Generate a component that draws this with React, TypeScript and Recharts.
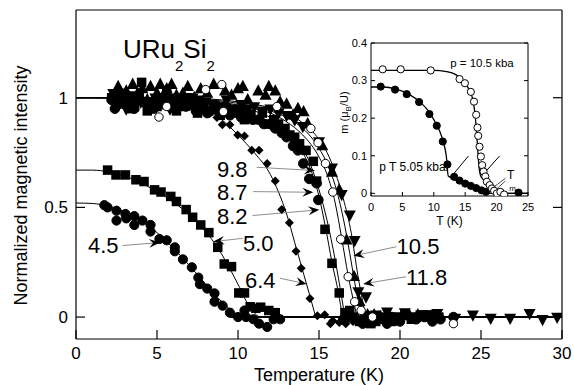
import React from 'react';
import { ComposedChart, Line, Scatter, XAxis, YAxis, ReferenceLine, ReferenceDot } from 'recharts';

const FONT = '"Liberation Sans", Arial, Helvetica, sans-serif';

// ---------- main chart ticks ----------
const xTicks = [0, 5, 10, 15, 20, 25, 30];
const yTicks = [0, 0.5, 1];

// ---------- main chart data (T [K], normalized intensity) ----------
const c45 = [[1.75,0.51],[1.95,0.5],[2.5,0.485],[2.5,0.44],[3.05,0.47],[3.1,0.45],[3.6,0.46],[3.6,0.42],[4.1,0.44],[4.6,0.42],[4.6,0.39],[5.15,0.356],[5.6,0.35],[6.1,0.318],[6.1,0.3],[6.6,0.263],[7.15,0.227],[7.55,0.18],[7.65,0.15],[8.1,0.13],[8.55,0.108],[8.55,0.07],[9.05,0.052],[9.5,0.02],[10.0,0.0],[10.4,0.03],[10.5,0.0],[10.95,-0.01],[11.3,-0.03],[11.8,-0.045],[12.2,-0.01],[12.6,-0.01]];
const sq50 = [[1.95,0.67],[2.47,0.648],[3.05,0.648],[3.7,0.626],[4.2,0.618],[4.85,0.58],[5.25,0.57],[5.85,0.55],[6.2,0.527],[6.8,0.49],[7.2,0.455],[7.7,0.42],[8.2,0.385],[8.75,0.318],[9.15,0.242],[9.6,0.23],[10.05,0.11],[10.4,0.11],[10.75,0.047],[11.1,0.04],[11.4,0.045],[11.9,0.03],[12.3,0.02]];
const d64 = [[2.4,1.0],[2.9,0.97],[3.5,1.0],[4.2,0.98],[4.8,0.99],[5.6,0.97],[6.3,0.98],[7.0,0.96],[7.6,0.97],[8.3,0.93],[8.7,0.91],[9.03,0.877],[9.5,0.877],[9.98,0.83],[10.4,0.825],[10.85,0.76],[11.3,0.76],[11.8,0.7],[12.3,0.62],[12.7,0.49],[13.17,0.43],[13.58,0.3],[13.9,0.222],[14.44,0.085],[14.9,0.006],[15.35,0.01],[15.7,-0.03],[15.85,-0.017],[16.25,-0.025],[16.65,-0.03],[17.1,-0.02],[17.6,-0.01]];
const sq82 = [[2.2,1.0],[2.5,0.97],[2.8,1.02],[3.0,0.99],[3.3,0.95],[3.6,0.96],[3.9,1.0],[4.05,1.07],[4.4,0.94],[4.7,0.97],[5.0,0.96],[5.3,1.0],[5.6,1.03],[5.9,0.98],[6.2,0.94],[6.5,0.96],[6.9,1.0],[7.2,0.97],[7.5,0.93],[7.9,0.95],[8.2,0.94],[8.6,0.96],[8.9,0.92],[9.3,0.95],[9.7,0.93],[10.1,0.94],[10.4,0.9],[10.8,0.92],[11.1,0.9],[11.5,0.93],[11.9,0.88],[12.2,0.9],[12.5,0.88],[12.9,0.86],[13.2,0.83],[13.5,0.82],[13.8,0.79],[14.2,0.76],[14.65,0.71],[14.85,0.62],[15.37,0.4],[15.8,0.245],[16.25,0.11],[16.6,0.02],[16.9,0.03],[17.2,0.0],[17.5,-0.02],[17.9,-0.01],[18.2,-0.03],[18.5,-0.02],[18.8,0.0],[19.1,-0.01],[19.5,-0.02],[19.9,0.0],[20.3,0.01],[20.7,-0.01],[21.0,0.0],[21.4,0.01],[21.8,0.01],[22.4,0.0]];
const c87 = [[2.2,0.99],[2.4,0.95],[2.7,1.0],[3.0,0.97],[3.3,0.98],[3.6,0.95],[3.9,1.0],[4.2,0.98],[4.5,0.97],[4.8,0.95],[5.1,0.99],[5.4,0.97],[5.8,0.97],[6.1,0.95],[6.4,0.99],[6.8,0.96],[7.1,0.97],[7.4,0.94],[7.8,0.96],[8.1,0.93],[8.5,0.95],[8.8,0.94],[9.2,0.96],[9.5,0.92],[9.9,0.94],[10.2,0.91],[10.6,0.93],[10.9,0.9],[11.3,0.9],[11.6,0.88],[12.0,0.88],[12.3,0.86],[12.7,0.84],[13.0,0.82],[13.4,0.78],[13.7,0.76],[14.03,0.7],[14.4,0.63],[14.85,0.61],[14.96,0.534],[16.5,-0.01],[16.8,0.0],[17.3,-0.01],[17.7,-0.03],[18.0,0.005],[18.4,-0.02],[18.7,-0.01],[19.2,-0.03],[19.5,0.0],[20.0,-0.02],[20.4,0.01],[21.0,-0.01],[21.5,0.0],[22.0,-0.02],[22.5,-0.01],[23.3,0.0]];
const oc98 = [[5.12,0.912],[5.6,0.96],[8.0,1.037],[9.0,1.06],[9.1,0.937],[12.4,0.96],[14.5,0.86],[14.94,0.795],[15.4,0.7],[15.85,0.57],[16.34,0.355],[16.8,0.184],[17.2,0.07],[17.6,0.03],[18.3,0.0],[23.3,-0.03]];
const tu105 = [[2.6,1.05],[2.9,1.0],[3.1,1.03],[3.5,1.06],[3.8,1.02],[4.1,1.04],[4.4,0.99],[4.6,1.05],[5.0,1.02],[5.2,1.06],[5.6,1.04],[5.9,1.06],[6.2,1.01],[6.6,1.02],[6.9,1.05],[7.3,1.0],[7.7,1.04],[8.1,1.02],[8.5,1.06],[9.2,1.03],[9.6,1.01],[10.0,1.04],[10.3,1.05],[10.6,0.99],[11.25,1.03],[11.7,1.01],[11.9,1.05],[12.3,1.03],[12.6,0.98],[13.0,0.97],[13.4,0.92],[13.7,0.95],[14.05,0.935],[14.3,0.88],[15.2,0.78],[15.8,0.66],[16.25,0.58],[16.7,0.35],[17.16,0.184],[17.5,0.07],[18.0,0.01],[18.4,0.01],[18.8,0.0],[19.3,0.01],[19.7,-0.01],[20.2,0.01],[20.6,0.005],[21.1,0.01],[21.8,0.0]];
const td118 = [[2.3,1.02],[2.6,0.97],[2.8,1.0],[3.1,0.95],[3.4,1.01],[3.7,0.99],[4.0,0.98],[4.4,0.96],[4.9,1.0],[5.2,0.97],[5.5,0.99],[5.8,0.95],[6.0,1.0],[6.4,0.97],[6.8,0.98],[7.2,1.0],[7.6,0.99],[8.0,0.98],[8.4,0.97],[8.8,0.96],[9.3,0.99],[9.7,0.95],[10.2,0.97],[10.6,0.95],[11.0,0.96],[11.5,0.94],[12.0,0.95],[12.5,0.93],[13.0,0.92],[13.5,0.9],[14.0,0.87],[15.0,0.8],[15.8,0.68],[16.4,0.56],[16.9,0.466],[17.2,0.35],[17.43,0.116],[17.9,0.093],[18.5,0.01],[19.2,0.024],[19.8,0.0],[20.3,0.02],[20.8,0.0],[21.3,0.01],[21.8,0.0],[22.3,0.017],[23.4,-0.005],[24.5,0.01],[25.6,-0.005],[26.8,-0.005],[28.0,0.017],[28.8,-0.01],[29.7,0.0]];

// ---------- fit curves ----------
const line45 = [[0,0.52],[1,0.518],[2,0.505],[3,0.48],[4,0.44],[5,0.385],[6,0.315],[7,0.235],[8,0.15],[9,0.07],[9.6,0.03],[10.2,0.005],[10.6,0]];
const line50 = [[0,0.67],[1,0.67],[2,0.662],[3,0.643],[4,0.612],[5,0.572],[6,0.525],[7,0.465],[8,0.39],[8.8,0.31],[9.5,0.22],[10.1,0.135],[10.6,0.06],[11,0.02],[11.3,0]];
const line64 = [[0,1],[4,1],[6,0.99],[7,0.98],[8,0.95],[9,0.9],[10,0.83],[11,0.75],[12,0.65],[12.5,0.57],[13,0.47],[13.5,0.34],[14,0.21],[14.5,0.08],[14.8,0]];
const line82 = [[0,1],[6,0.99],[9,0.96],[11,0.92],[12,0.89],[13,0.84],[14,0.75],[14.5,0.67],[15,0.55],[15.4,0.41],[15.8,0.25],[16.2,0.11],[16.45,0]];
const line87 = [[0,1],[6,0.995],[9,0.97],[11,0.94],[12,0.91],[13,0.86],[14,0.77],[14.5,0.69],[15,0.58],[15.5,0.44],[16,0.26],[16.4,0.09],[16.6,0]];
const line98 = [[0,1],[6,1],[9,0.98],[11,0.95],[12,0.93],[13,0.89],[14,0.83],[15,0.73],[15.5,0.65],[16,0.52],[16.4,0.36],[16.8,0.19],[17.2,0.05],[17.35,0]];
const line105 = [[0,1],[6,1],[9,0.985],[11,0.96],[12,0.94],[13,0.91],[14,0.86],[15,0.77],[15.5,0.7],[16,0.6],[16.5,0.45],[16.9,0.29],[17.2,0.16],[17.5,0.04],[17.6,0]];
const line118 = [[0,1],[6,1],[9,0.99],[11,0.97],[12,0.955],[13,0.93],[14,0.885],[15,0.81],[15.5,0.75],[16,0.66],[16.5,0.54],[17,0.38],[17.4,0.19],[17.7,0.07],[17.9,0]];
const lineZero = [[9.5,0],[30,0]];

// ---------- pressure labels: text, anchor (T, v), arrow from -> to ----------
const labelNames = ['9.8', '8.7', '8.2', '5.0', '4.5', '6.4', '10.5', '11.8'];
const labelPos = [[8.7,0.64],[8.7,0.533],[8.7,0.423],[10.31,0.303],[0.74,0.294],[10.43,0.131],[19.79,0.288],[20.37,0.146]];
const arrowFrom = [[11.15,0.683],[10.94,0.572],[10.9,0.463],[10.29,0.359],[2.86,0.326],[12.59,0.177],[19.79,0.321],[20.37,0.184]];
const arrowTo = [[14.75,0.668],[14.65,0.569],[15.02,0.489],[8.48,0.344],[5.19,0.34],[14.24,0.151],[17.12,0.279],[17.73,0.151]];

// ---------- inset ----------
const insetXTicks = [0, 5, 10, 15, 20, 25];
const insetYTicks = [0, 0.1, 0.2, 0.3, 0.4];
const insetOpen = [[1.86,0.33],[4.73,0.33],[9.5,0.327],[14.1,0.304],[14.95,0.293],[15.9,0.27],[16.4,0.244],[16.75,0.209],[16.95,0.175],[17.07,0.153],[17.28,0.124],[17.5,0.098],[17.7,0.075],[17.92,0.058],[18.2,0.045],[18.45,0.031],[18.9,0.022],[19.25,0.013],[19.6,0.007],[20.05,0.0],[20.6,0.004],[21.2,-0.003]];
const insetFilled = [[1.54,0.284],[3.83,0.276],[5.69,0.264],[7.66,0.243],[9.3,0.211],[10.47,0.18],[11.43,0.138],[12.17,0.077],[13.24,0.044],[14.1,0.034],[15.0,0.026],[15.9,0.02],[16.75,0.014],[17.6,0.008],[18.3,0.004],[23.5,0.002]];
const insetOpenLine = [[0,0.327],[10,0.327],[12,0.324],[13.5,0.316],[14.5,0.302],[15.5,0.28],[16.2,0.25],[16.6,0.205],[16.9,0.14],[17.2,0.07],[17.45,0.047],[18,0.035],[19,0.015],[20,0.0],[25,0]];
const insetFilledLine = [[0,0.283],[2,0.283],[4,0.277],[6,0.264],[8,0.24],[9,0.222],[10,0.196],[11,0.163],[11.5,0.138],[12,0.098],[12.3,0.046],[13,0.04],[14,0.033],[15,0.026],[16,0.019],[17,0.011],[18,0.004],[19,0],[25,0]];
const insetSegFrom = [[15.52,0.0995],[20.47,0.0995],[21.4,0.04],[21.4,0.033]];
const insetSegTo = [[13.13,0.0515],[18.0,0.053],[19.1,0.011],[19.5,0.004]];

const pts = (a: number[][]) => a.map(([t, v]) => ({ t, v }));

// ---------- marker shapes ----------
const circ = (r: number, open = false) => (p: any) => (
  <circle cx={p.cx} cy={p.cy} r={r} fill={open ? '#fff' : '#000'} stroke="#000" strokeWidth={1} />
);
const square = (s: number) => (p: any) => (
  <rect x={p.cx - s / 2} y={p.cy - s / 2} width={s} height={s} fill="#000" />
);
const diamond = (s: number) => (p: any) => (
  <polygon points={`${p.cx},${p.cy - s / 2} ${p.cx + s / 2},${p.cy} ${p.cx},${p.cy + s / 2} ${p.cx - s / 2},${p.cy}`} fill="#000" />
);
const triUp = (s: number) => (p: any) => (
  <polygon points={`${p.cx},${p.cy - s * 0.58} ${p.cx + s / 2},${p.cy + s * 0.36} ${p.cx - s / 2},${p.cy + s * 0.36}`} fill="#000" />
);
const triDown = (s: number) => (p: any) => (
  <polygon points={`${p.cx},${p.cy + s * 0.58} ${p.cx + s / 2},${p.cy - s * 0.36} ${p.cx - s / 2},${p.cy - s * 0.36}`} fill="#000" />
);

const arrowShape = (p: any) => {
  const { x1, y1, x2, y2 } = p;
  const dx = x2 - x1, dy = y2 - y1;
  const len = Math.hypot(dx, dy) || 1;
  const ux = dx / len, uy = dy / len;
  const L = 11, W = 4.5, N = 7;
  const bx = x2 - ux * L, by = y2 - uy * L;
  const poly = `${x2},${y2} ${bx - uy * W},${by + ux * W} ${x2 - ux * N},${y2 - uy * N} ${bx + uy * W},${by - ux * W}`;
  return (
    <g>
      <line x1={x1} y1={y1} x2={x2 - ux * N} y2={y2 - uy * N} stroke="#808080" strokeWidth={0.9} />
      <polygon points={poly} fill="#000" />
    </g>
  );
};

const textShape = (txt: React.ReactNode, fs: number) => (p: any) => (
  <text x={p.cx} y={p.cy} fontSize={fs} fontFamily={FONT} fill="#000">{txt}</text>
);

const mainTick = { fill: '#000', fontSize: 17, fontFamily: FONT };
const insetTick = { fill: '#000', fontSize: 11, fontFamily: FONT };

export default function App() {
  return (
    <div style={{ position: 'absolute', left: 0, top: 0, width: 574, height: 385, background: '#fff', fontFamily: FONT }}>
      <div style={{ position: 'absolute', left: 0, top: 0 }}>
        <ComposedChart width={574} height={385} margin={{ top: 9, right: 11, bottom: 0, left: 0 }}>
          <XAxis xAxisId={0} type="number" dataKey="t" domain={[0, 30]} ticks={xTicks} interval={0} allowDataOverflow
            height={46} tickSize={-9} tickMargin={17} tick={mainTick} stroke="#000" strokeWidth={1.2}
            label={{ content: (p: any) => {
              const vb = p.viewBox || { x: 76, y: 339, width: 486 };
              return <text x={vb.x + vb.width / 2} y={vb.y + 42} textAnchor="middle" fontSize={18} fontFamily={FONT} fill="#000">Temperature (K)</text>;
            } }} />
          <XAxis xAxisId="top" orientation="top" type="number" domain={[0, 30]} ticks={xTicks} interval={0} allowDataOverflow
            height={1} tickSize={-9} tickFormatter={() => ''} stroke="#000" strokeWidth={1.2} />
          <YAxis yAxisId={0} type="number" dataKey="v" domain={[-0.1, 1.4]} ticks={yTicks} interval={0} allowDataOverflow
            width={76} tickSize={-9} tickMargin={17} tick={mainTick} stroke="#000" strokeWidth={1.2}
            label={{ content: (p: any) => {
              const vb = p.viewBox || { x: 0, y: 10, width: 76, height: 329 };
              const cx = vb.x + 27, cy = vb.y + vb.height / 2 + 11;
              return <text x={cx} y={cy} transform={`rotate(-90, ${cx}, ${cy})`} textAnchor="middle" fontSize={18} fontFamily={FONT} fill="#000">Normalized magnetic intensity</text>;
            } }} />
          <YAxis yAxisId="right" orientation="right" type="number" domain={[-0.1, 1.4]} ticks={yTicks} interval={0} allowDataOverflow
            width={1} tickSize={-9} tickFormatter={() => ''} stroke="#000" strokeWidth={1.2} />

          <Line data={pts(lineZero)} dataKey="v" type="linear" stroke="#000" strokeWidth={2} dot={false} isAnimationActive={false} />
          <Line data={pts(line45)} dataKey="v" type="monotone" stroke="#000" strokeWidth={1} dot={false} isAnimationActive={false} />
          <Line data={pts(line50)} dataKey="v" type="monotone" stroke="#000" strokeWidth={1} dot={false} isAnimationActive={false} />
          <Line data={pts(line64)} dataKey="v" type="monotone" stroke="#000" strokeWidth={1} dot={false} isAnimationActive={false} />
          <Line data={pts(line82)} dataKey="v" type="monotone" stroke="#000" strokeWidth={1} dot={false} isAnimationActive={false} />
          <Line data={pts(line87)} dataKey="v" type="monotone" stroke="#000" strokeWidth={1} dot={false} isAnimationActive={false} />
          <Line data={pts(line98)} dataKey="v" type="monotone" stroke="#000" strokeWidth={1} dot={false} isAnimationActive={false} />
          <Line data={pts(line105)} dataKey="v" type="monotone" stroke="#000" strokeWidth={1} dot={false} isAnimationActive={false} />
          <Line data={pts(line118)} dataKey="v" type="monotone" stroke="#000" strokeWidth={1} dot={false} isAnimationActive={false} />

          <Scatter data={pts(c45)} dataKey="v" shape={circ(4.6)} isAnimationActive={false} />
          <Scatter data={pts(sq50)} dataKey="v" shape={square(9.5)} isAnimationActive={false} />
          <Scatter data={pts(d64)} dataKey="v" shape={diamond(9)} isAnimationActive={false} />
          <Scatter data={pts(sq82)} dataKey="v" shape={square(9.5)} isAnimationActive={false} />
          <Scatter data={pts(c87)} dataKey="v" shape={circ(4.8)} isAnimationActive={false} />
          <Scatter data={pts(tu105)} dataKey="v" shape={triUp(12)} isAnimationActive={false} />
          <Scatter data={pts(td118)} dataKey="v" shape={triDown(12)} isAnimationActive={false} />
          <Scatter data={pts(oc98)} dataKey="v" shape={circ(4.2, true)} isAnimationActive={false} />

          {labelNames.map((name, i) => (
            <ReferenceLine key={'a' + i} segment={[{ x: arrowFrom[i][0], y: arrowFrom[i][1] }, { x: arrowTo[i][0], y: arrowTo[i][1] }]} shape={arrowShape} />
          ))}
          {labelNames.map((name, i) => (
            <ReferenceDot key={'l' + i} x={labelPos[i][0]} y={labelPos[i][1]} r={0} shape={textShape(name, 22)} />
          ))}
          <ReferenceDot x={2.9} y={1.181} r={0} shape={textShape(
            <>
              <tspan>URu</tspan><tspan dy={13} fontSize={15}>2</tspan><tspan dy={-13}>Si</tspan><tspan dy={13} fontSize={15}>2</tspan>
            </>, 26)} />
        </ComposedChart>
      </div>

      <div style={{ position: 'absolute', left: 330, top: 30 }}>
        <ComposedChart width={210} height={200} margin={{ top: 12, right: 11, bottom: 0, left: 0 }}>
          <XAxis xAxisId={0} type="number" dataKey="t" domain={[0, 25]} ticks={insetXTicks} interval={0} allowDataOverflow
            height={34} tickSize={-4} tickMargin={11} tick={insetTick} stroke="#000"
            label={{ content: (p: any) => {
              const vb = p.viewBox || { x: 41, y: 166, width: 157 };
              return <text x={vb.x + vb.width / 2} y={vb.y + 29} textAnchor="middle" fontSize={12} fontFamily={FONT} fill="#000">T (K)</text>;
            } }} />
          <XAxis xAxisId="top" orientation="top" type="number" domain={[0, 25]} ticks={insetXTicks} interval={0} allowDataOverflow
            height={1} tickSize={-4} tickFormatter={() => ''} stroke="#000" />
          <YAxis yAxisId={0} type="number" dataKey="v" domain={[-0.007, 0.4]} ticks={insetYTicks} interval={0} allowDataOverflow
            width={41} tickSize={-4} tickMargin={8} tick={insetTick} stroke="#000"
            label={{ content: (p: any) => {
              const vb = p.viewBox || { x: 0, y: 13, width: 41, height: 153 };
              const cx = vb.x + 18, cy = vb.y + vb.height / 2 - 7;
              return (
                <text x={cx} y={cy} transform={`rotate(-90, ${cx}, ${cy})`} textAnchor="middle" fontSize={11} fontFamily={FONT} fill="#000">
                  m (μ<tspan dy={3} fontSize={8}>B</tspan><tspan dy={-3}>/U)</tspan>
                </text>
              );
            } }} />
          <YAxis yAxisId="right" orientation="right" type="number" domain={[-0.007, 0.4]} ticks={insetYTicks} interval={0} allowDataOverflow
            width={1} tickSize={-4} tickFormatter={() => ''} stroke="#000" />

          <Line data={pts(insetOpenLine)} dataKey="v" type="monotone" stroke="#000" strokeWidth={1.3} dot={false} isAnimationActive={false} />
          <Line data={pts(insetFilledLine)} dataKey="v" type="monotone" stroke="#000" strokeWidth={1.3} dot={false} isAnimationActive={false} />
          <Scatter data={pts(insetFilled)} dataKey="v" shape={circ(3.6)} isAnimationActive={false} />
          <Scatter data={pts(insetOpen)} dataKey="v" shape={circ(3.6, true)} isAnimationActive={false} />

          {insetSegFrom.map((f, i) => (
            <ReferenceLine key={'s' + i} segment={[{ x: f[0], y: f[1] }, { x: insetSegTo[i][0], y: insetSegTo[i][1] }]} stroke="#000" strokeWidth={i < 2 ? 1 : 0.7} />
          ))}
          <ReferenceDot x={12.6} y={0.337} r={0} shape={textShape('p = 10.5 kba', 11.5)} />
          <ReferenceDot x={1.32} y={0.0595} r={0} shape={textShape('p T 5.05 kbar', 12)} />
          <ReferenceDot x={21.64} y={0.0375} r={0} shape={textShape('T', 12)} />
          <ReferenceDot x={22.0} y={0.005} r={0} shape={textShape('m', 8)} />
        </ComposedChart>
      </div>
    </div>
  );
}
